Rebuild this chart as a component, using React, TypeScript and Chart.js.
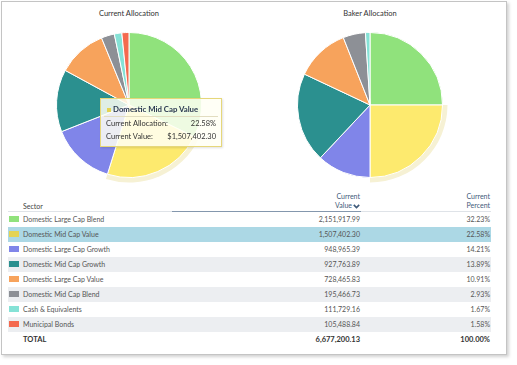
import React, { useEffect, useRef } from "react";
import { Chart, registerables } from "chart.js";

Chart.register(...registerables);

const sectors = [
  "Domestic Large Cap Blend",
  "Domestic Mid Cap Value",
  "Domestic Large Cap Growth",
  "Domestic Mid Cap Growth",
  "Domestic Large Cap Value",
  "Domestic Mid Cap Blend",
  "Cash & Equivalents",
  "Municipal Bonds",
];
const currentValues = [2151917.99, 1507402.3, 948965.39, 927763.89, 728465.83, 195466.73, 111729.16, 105488.84];
const currentPercent = [32.23, 22.58, 14.21, 13.89, 10.91, 2.93, 1.67, 1.58];
const bakerPercent = [25, 25, 12, 20, 12, 5, 1, 0];
const sliceColors = ["#90e27c", "#fdea6e", "#8085e9", "#2b908f", "#f7a35c", "#8d9096", "#85e2d6", "#f46a4f"];
const swatchColors = ["#90e27c", "#e4d354", "#8085e9", "#2b908f", "#f7a35c", "#8d9096", "#85e2d6", "#f46a4f"];
const hoveredIndex = 1;
const haloColor = "#f6f1d4";

const FONT = "Lato, 'Open Sans', sans-serif";

const fmt = (v: number) => v.toLocaleString("en-US", { minimumFractionDigits: 2, maximumFractionDigits: 2 });

const haloPlugin = {
  id: "halo",
  beforeDatasetsDraw(chart: any) {
    const meta = chart.getDatasetMeta(0);
    const arc = meta.data[hoveredIndex];
    if (!arc) return;
    const p = arc.getProps(["x", "y", "startAngle", "endAngle", "outerRadius"], true);
    const ctx = chart.ctx;
    ctx.save();
    ctx.beginPath();
    ctx.moveTo(p.x, p.y);
    ctx.arc(p.x, p.y, p.outerRadius + 5, p.startAngle, p.endAngle);
    ctx.closePath();
    ctx.fillStyle = haloColor;
    ctx.fill();
    ctx.restore();
  },
};

function Pie({ data, left, top }: { data: number[]; left: number; top: number }) {
  const ref = useRef<HTMLCanvasElement>(null);
  useEffect(() => {
    const chart = new Chart(ref.current!, {
      type: "pie",
      data: {
        labels: sectors,
        datasets: [
          {
            data,
            backgroundColor: sliceColors,
            borderColor: "#ffffff",
            borderWidth: 1,
            hoverOffset: 0,
            offset: 0,
          },
        ],
      },
      options: {
        responsive: false,
        animation: false,
        devicePixelRatio: 1,
        events: [],
        layout: { padding: 7 },
        plugins: { legend: { display: false }, tooltip: { enabled: false }, title: { display: false } },
      },
      plugins: [haloPlugin],
    });
    return () => chart.destroy();
  }, []);
  return (
    <canvas
      ref={ref}
      width={160}
      height={160}
      style={{ position: "absolute", left, top, width: 160, height: 160 }}
    />
  );
}

function Chevron() {
  return (
    <svg width="7" height="5" viewBox="0 0 7 5" style={{ marginLeft: 1, verticalAlign: "middle" }}>
      <polyline points="0.8,0.9 3.5,3.6 6.2,0.9" fill="none" stroke="#3f5a7a" strokeWidth="1.6" />
    </svg>
  );
}

export default function App() {
  const totalValue = currentValues.reduce((a, b) => a + b, 0);
  const totalPercent = currentPercent.reduce((a, b) => a + b, 0);
  const rowTop = 212;
  const rowH = 15;
  return (
    <div style={{ position: "absolute", left: 0, top: 0, width: 517, height: 365, background: "#fff", fontFamily: FONT, overflow: "hidden" }}>
      <div
        style={{
          position: "absolute",
          left: 1,
          top: 1,
          width: 504,
          height: 352,
          border: "1px solid #c4c4c4",
          boxShadow: "2px 2px 3px rgba(0,0,0,0.18)",
          background: "#fff",
        }}
      />
      <div style={{ position: "absolute", left: 29, width: 200, top: 8, textAlign: "center", fontSize: 7.5, color: "#333", lineHeight: "12px" }}>
        Current Allocation
      </div>
      <div style={{ position: "absolute", left: 270, width: 200, top: 8, textAlign: "center", fontSize: 7.5, color: "#333", lineHeight: "12px" }}>
        Baker Allocation
      </div>
      <Pie data={currentPercent} left={49} top={25} />
      <Pie data={bakerPercent} left={290} top={25} />

      {/* tooltip */}
      <div
        style={{
          position: "absolute",
          left: 100,
          top: 98,
          width: 120,
          height: 47,
          border: "1px solid #e6d77a",
          background: "rgba(255,255,245,0.85)",
          boxShadow: "1px 1px 2px rgba(0,0,0,0.12)",
          fontSize: 7.5,
          color: "#333",
        }}
      >
        <div style={{ position: "absolute", left: 6, top: 9, width: 4, height: 4, background: "#e4d354" }} />
        <div style={{ position: "absolute", left: 12, top: 5, fontWeight: 700, color: "#2a3850", lineHeight: "11px", fontSize: 7.8 }}>
          {sectors[hoveredIndex]}
        </div>
        <div style={{ position: "absolute", left: 3, right: 3, top: 17, height: 1, background: "#e2ddc0" }} />
        <div style={{ position: "absolute", left: 5, top: 19, lineHeight: "11px" }}>Current Allocation:</div>
        <div style={{ position: "absolute", right: 5, top: 19, lineHeight: "11px" }}>{currentPercent[hoveredIndex].toFixed(2)}%</div>
        <div style={{ position: "absolute", left: 5, top: 32, lineHeight: "11px" }}>Current Value:</div>
        <div style={{ position: "absolute", right: 5, top: 32, lineHeight: "11px" }}>${fmt(currentValues[hoveredIndex])}</div>
      </div>

      {/* table header */}
      <div style={{ position: "absolute", left: 23, top: 201, fontSize: 7, color: "#444", lineHeight: "10px" }}>Sector</div>
      <div style={{ position: "absolute", left: 260, width: 100, top: 192, fontSize: 7, color: "#3f5a7a", lineHeight: "9px", textAlign: "right" }}>
        Current
        <br />
        Value<Chevron />
      </div>
      <div style={{ position: "absolute", left: 390, width: 100, top: 192, fontSize: 7, color: "#3f5a7a", lineHeight: "9px", textAlign: "right" }}>
        Current
        <br />
        Percent
      </div>
      <div style={{ position: "absolute", left: 8, width: 483, top: 211, height: 1, background: "#dfe3e8" }} />
      <div style={{ position: "absolute", left: 172, width: 189, top: 211, height: 1, background: "#8497ad" }} />

      {sectors.map((s, i) => {
        const bg = i === hoveredIndex ? "#acd8e5" : i % 2 === 1 ? "#eceef1" : "#ffffff";
        return (
          <div key={s} style={{ position: "absolute", left: 8, width: 483, top: rowTop + i * rowH, height: rowH, background: bg, fontSize: 7, color: "#555", lineHeight: rowH + "px" }}>
            <div style={{ position: "absolute", left: 1, top: 4, width: 10, height: 6, background: swatchColors[i] }} />
            <div style={{ position: "absolute", left: 15 }}>{s}</div>
            <div style={{ position: "absolute", right: 131 }}>{fmt(currentValues[i])}</div>
            <div style={{ position: "absolute", right: 1 }}>{currentPercent[i].toFixed(2)}%</div>
          </div>
        );
      })}
      <div style={{ position: "absolute", left: 8, width: 483, top: rowTop + 8 * rowH, height: 16, fontSize: 7.5, color: "#333", fontWeight: 700, lineHeight: "16px" }}>
        <div style={{ position: "absolute", left: 15 }}>TOTAL</div>
        <div style={{ position: "absolute", right: 131 }}>{fmt(totalValue)}</div>
        <div style={{ position: "absolute", right: 1 }}>{totalPercent.toFixed(2)}%</div>
      </div>
    </div>
  );
}
